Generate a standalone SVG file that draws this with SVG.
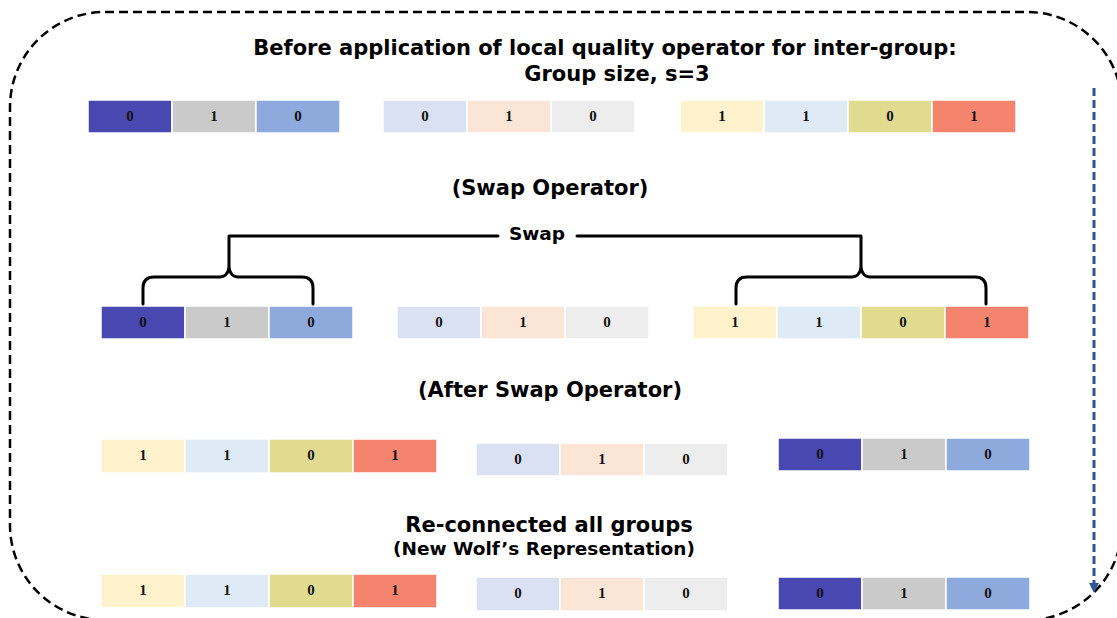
<svg xmlns="http://www.w3.org/2000/svg" width="1117" height="618" viewBox="0 0 1117 618">
  <style>
    .ttl { font-family: "DejaVu Sans", Verdana, sans-serif; font-weight: bold; fill: #000; text-anchor: middle; }
    .cell { stroke: #ffffff; stroke-width: 1.5; }
    .num { font-family: "Liberation Serif", "Times New Roman", serif; font-weight: bold; font-size: 15px; fill: #111; text-anchor: middle; }
    .brace { fill: none; stroke: #000; stroke-width: 3; stroke-linejoin: round; stroke-linecap: round; }
    .c-navy { fill: #4848B0; }
    .c-grey { fill: #CBCACA; }
    .c-corn { fill: #8EA9DB; }
    .c-pale { fill: #D9E1F2; }
    .c-peach { fill: #FBE5D6; }
    .c-light { fill: #EDEDED; }
    .c-cream { fill: #FFF2CC; }
    .c-sky { fill: #DEEBF7; }
    .c-olive { fill: #E0DB8F; }
    .c-salmon { fill: #F4846E; }
  </style>
  <defs>
    <marker id="arrowBlue" markerWidth="10" markerHeight="10" refX="9" refY="5" orient="auto" markerUnits="userSpaceOnUse" viewBox="0 0 10 10">
      <path d="M0,0 L10,5 L0,10 Z" fill="#2F5597"/>
    </marker>
  </defs>

  <rect width="1117" height="618" fill="#ffffff"/>

  <!-- outer dashed frame -->
  <rect id="frame" x="10" y="12" width="1112" height="608" rx="95" ry="95" fill="none" stroke="#000" stroke-width="2.5" stroke-dasharray="9 5"/>

  <!-- headings -->
  <text class="ttl" x="605" y="55" font-size="21">Before application of local quality operator for inter-group:</text>
  <text class="ttl" x="617" y="81" font-size="21">Group size, s=3</text>
  <text class="ttl" x="550" y="195" font-size="21">(Swap Operator)</text>
  <text class="ttl" x="537" y="240" font-size="18.5">Swap</text>
  <text class="ttl" x="550" y="397" font-size="21">(After Swap Operator)</text>
  <text class="ttl" x="549" y="532" font-size="21">Re-connected all groups</text>
  <text class="ttl" x="544" y="555" font-size="18.5">(New Wolf’s Representation)</text>

  <!-- row 1: before -->
  <g id="r1-g1">
    <rect class="cell c-navy" x="88" y="100" width="84" height="33"/><text class="num" x="130" y="121">0</text>
    <rect class="cell c-grey" x="172" y="100" width="84" height="33"/><text class="num" x="214" y="121">1</text>
    <rect class="cell c-corn" x="256" y="100" width="84" height="33"/><text class="num" x="298" y="121">0</text>
  </g>
  <g id="r1-g2">
    <rect class="cell c-pale" x="383" y="100" width="84" height="33"/><text class="num" x="425" y="121">0</text>
    <rect class="cell c-peach" x="467" y="100" width="84" height="33"/><text class="num" x="509" y="121">1</text>
    <rect class="cell c-light" x="551" y="100" width="84" height="33"/><text class="num" x="593" y="121">0</text>
  </g>
  <g id="r1-g3">
    <rect class="cell c-cream" x="680" y="100" width="84" height="33"/><text class="num" x="722" y="121">1</text>
    <rect class="cell c-sky" x="764" y="100" width="84" height="33"/><text class="num" x="806" y="121">1</text>
    <rect class="cell c-olive" x="848" y="100" width="84" height="33"/><text class="num" x="890" y="121">0</text>
    <rect class="cell c-salmon" x="932" y="100" width="84" height="33"/><text class="num" x="974" y="121">1</text>
  </g>

  <!-- row 2: swap selection -->
  <g id="r2-g1">
    <rect class="cell c-navy" x="101" y="306" width="84" height="33"/><text class="num" x="143" y="327">0</text>
    <rect class="cell c-grey" x="185" y="306" width="84" height="33"/><text class="num" x="227" y="327">1</text>
    <rect class="cell c-corn" x="269" y="306" width="84" height="33"/><text class="num" x="311" y="327">0</text>
  </g>
  <g id="r2-g2">
    <rect class="cell c-pale" x="397" y="306" width="84" height="33"/><text class="num" x="439" y="327">0</text>
    <rect class="cell c-peach" x="481" y="306" width="84" height="33"/><text class="num" x="523" y="327">1</text>
    <rect class="cell c-light" x="565" y="306" width="84" height="33"/><text class="num" x="607" y="327">0</text>
  </g>
  <g id="r2-g3">
    <rect class="cell c-cream" x="693" y="306" width="84" height="33"/><text class="num" x="735" y="327">1</text>
    <rect class="cell c-sky" x="777" y="306" width="84" height="33"/><text class="num" x="819" y="327">1</text>
    <rect class="cell c-olive" x="861" y="306" width="84" height="33"/><text class="num" x="903" y="327">0</text>
    <rect class="cell c-salmon" x="945" y="306" width="84" height="33"/><text class="num" x="987" y="327">1</text>
  </g>

  <!-- row 3: after swap -->
  <g id="r3-g1">
    <rect class="cell c-cream" x="101" y="439" width="84" height="34"/><text class="num" x="143" y="460">1</text>
    <rect class="cell c-sky" x="185" y="439" width="84" height="34"/><text class="num" x="227" y="460">1</text>
    <rect class="cell c-olive" x="269" y="439" width="84" height="34"/><text class="num" x="311" y="460">0</text>
    <rect class="cell c-salmon" x="353" y="439" width="84" height="34"/><text class="num" x="395" y="460">1</text>
  </g>
  <g id="r3-g2">
    <rect class="cell c-pale" x="476" y="443" width="84" height="33"/><text class="num" x="518" y="464">0</text>
    <rect class="cell c-peach" x="560" y="443" width="84" height="33"/><text class="num" x="602" y="464">1</text>
    <rect class="cell c-light" x="644" y="443" width="84" height="33"/><text class="num" x="686" y="464">0</text>
  </g>
  <g id="r3-g3">
    <rect class="cell c-navy" x="778" y="438" width="84" height="33"/><text class="num" x="820" y="459">0</text>
    <rect class="cell c-grey" x="862" y="438" width="84" height="33"/><text class="num" x="904" y="459">1</text>
    <rect class="cell c-corn" x="946" y="438" width="84" height="33"/><text class="num" x="988" y="459">0</text>
  </g>

  <!-- row 4: reconnected -->
  <g id="r4-g1">
    <rect class="cell c-cream" x="101" y="574" width="84" height="34"/><text class="num" x="143" y="595">1</text>
    <rect class="cell c-sky" x="185" y="574" width="84" height="34"/><text class="num" x="227" y="595">1</text>
    <rect class="cell c-olive" x="269" y="574" width="84" height="34"/><text class="num" x="311" y="595">0</text>
    <rect class="cell c-salmon" x="353" y="574" width="84" height="34"/><text class="num" x="395" y="595">1</text>
  </g>
  <g id="r4-g2">
    <rect class="cell c-pale" x="476" y="577" width="84" height="34"/><text class="num" x="518" y="598">0</text>
    <rect class="cell c-peach" x="560" y="577" width="84" height="34"/><text class="num" x="602" y="598">1</text>
    <rect class="cell c-light" x="644" y="577" width="84" height="34"/><text class="num" x="686" y="598">0</text>
  </g>
  <g id="r4-g3">
    <rect class="cell c-navy" x="778" y="577" width="84" height="33"/><text class="num" x="820" y="598">0</text>
    <rect class="cell c-grey" x="862" y="577" width="84" height="33"/><text class="num" x="904" y="598">1</text>
    <rect class="cell c-corn" x="946" y="577" width="84" height="33"/><text class="num" x="988" y="598">0</text>
  </g>

  <!-- connectors -->
  <g id="connectors">
    <!-- swap bracket -->
    <path class="brace" d="M498,236 L229,236 L229,268"/>
    <path class="brace" d="M143,304 L143,288 Q143,277 154,277 L220,277 Q227,277 229,268 Q231,277 238,277 L302,277 Q313,277 313,288 L313,304"/>
    <path class="brace" d="M577,236 L861,236 L861,268"/>
    <path class="brace" d="M736,304 L736,288 Q736,277 747,277 L852,277 Q859,277 861,268 Q863,277 870,277 L975,277 Q986,277 986,288 L986,304"/>
    <!-- flow arrow down the right side -->
    <line x1="1094" y1="88" x2="1094" y2="592" stroke="#2F5597" stroke-width="3" stroke-dasharray="8 4" marker-end="url(#arrowBlue)"/>
  </g>
</svg>
